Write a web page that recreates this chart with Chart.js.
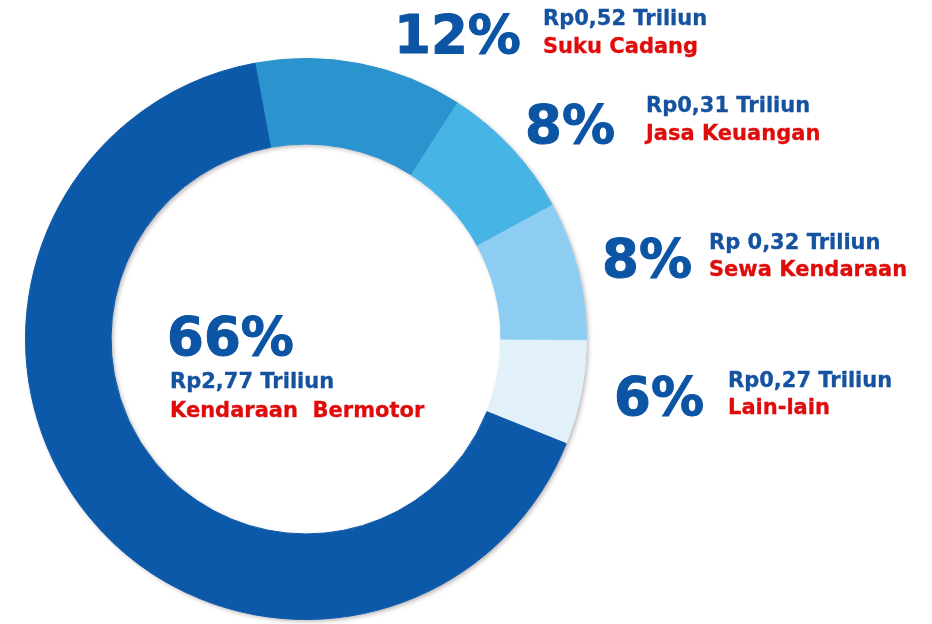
<!DOCTYPE html>
<html><head><meta charset="utf-8">
<script src="https://cdn.jsdelivr.net/npm/chart.js@4"></script>
<style>
html,body{margin:0;padding:0;background:#ffffff;}
#wrap{position:relative;width:932px;height:624px;overflow:hidden;background:#ffffff;}
canvas{position:absolute;left:0;top:0;}
.t{position:absolute;font-family:"DejaVu Sans",Verdana,sans-serif;font-weight:bold;line-height:1;white-space:pre;}
.pct{font-size:53px;color:#0c54a4;-webkit-text-stroke:1px #0c54a4;}
.rp{font-size:21px;color:#1552a0;-webkit-text-stroke:0.3px #1552a0;}
.cat{font-size:21px;color:#e00b0b;-webkit-text-stroke:0.3px #e00b0b;}
</style></head><body>
<div id="wrap"><canvas id="c" width="932" height="624"></canvas></div>
<script>
// ---- data ----
const categories = ["Suku Cadang", "Jasa Keuangan", "Sewa Kendaraan", "Lain-lain", "Kendaraan  Bermotor"];
const shares = [12, 8, 8, 6, 66];
const amounts = ["Rp0,52 Triliun", "Rp0,31 Triliun", "Rp 0,32 Triliun", "Rp0,27 Triliun", "Rp2,77 Triliun"];

// ---- styles / layout (kept apart from data) ----
const sliceColors = ["#2b93cd", "#47b4e6", "#8dcdf2", "#e2f0f9", "#0c59aa"];
const labelLayout = [
  {px: 394, pb: 53,  tx: 543, rb: 26,  cb: 54},
  {px: 525, pb: 143, tx: 646, rb: 113, cb: 141},
  {px: 602, pb: 277, tx: 709, rb: 250, cb: 277},
  {px: 614, pb: 415, tx: 728, rb: 388, cb: 415},
  {px: 167, pb: 355, tx: 170, rb: 389, cb: 418}
];

const ringShadow = {
  id: 'ringShadow',
  beforeDatasetsDraw(chart) {
    const arc = chart.getDatasetMeta(0).data[0];
    if (!arc) return;
    const p = arc.getProps(['x', 'y', 'outerRadius', 'innerRadius'], true);
    const ctx = chart.ctx;
    ctx.save();
    ctx.shadowColor = 'rgba(70,50,50,0.35)';
    ctx.shadowBlur = 4;
    ctx.shadowOffsetX = 2;
    ctx.shadowOffsetY = 2;
    ctx.beginPath();
    ctx.arc(p.x, p.y, p.outerRadius, 0, Math.PI * 2);
    ctx.moveTo(p.x + p.innerRadius, p.y);
    ctx.arc(p.x, p.y, p.innerRadius, Math.PI * 2, 0, true);
    ctx.fillStyle = '#ffffff';
    ctx.fill();
    ctx.restore();
  }
};

new Chart(document.getElementById('c'), {
  type: 'doughnut',
  data: {
    labels: categories,
    datasets: [{
      data: shares,
      backgroundColor: sliceColors,
      borderColor: sliceColors,
      borderWidth: 1,
      hoverOffset: 0,
      offset: 0
    }]
  },
  options: {
    responsive: false,
    animation: false,
    rotation: -10.5,
    cutout: '69.5%',
    layout: {padding: {left: 25, right: 345, top: 58, bottom: 4}},
    plugins: {legend: {display: false}, tooltip: {enabled: false}}
  },
  plugins: [ringShadow]
});

// ---- text labels as real DOM text ----
const wrap = document.getElementById('wrap');
function addText(cls, text, left, baseline, size) {
  const d = document.createElement('div');
  d.className = 't ' + cls;
  d.textContent = text;
  d.style.left = left + 'px';
  d.style.top = (baseline - 0.846 * size) + 'px';
  wrap.appendChild(d);
}
categories.forEach((cat, i) => {
  const L = labelLayout[i];
  addText('pct', shares[i] + '%', L.px, L.pb, 53);
  addText('rp', amounts[i], L.tx, L.rb, 21);
  addText('cat', cat, L.tx, L.cb, 21);
});
</script>
</body></html>
